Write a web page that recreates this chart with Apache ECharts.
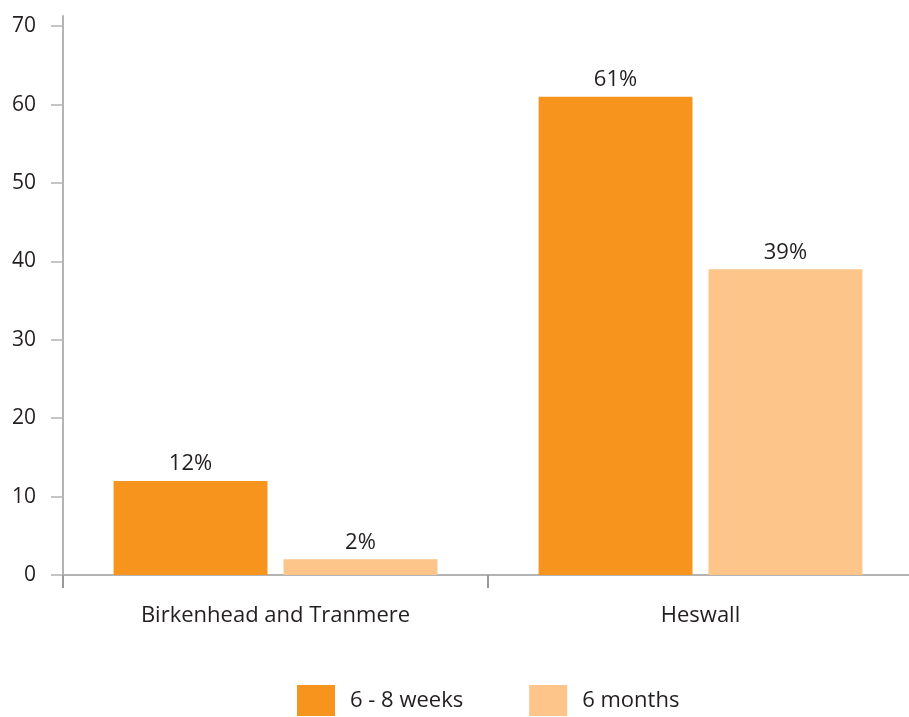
<!DOCTYPE html>
<html>
<head>
<meta charset="utf-8">
<script src="https://cdn.jsdelivr.net/npm/echarts@6/dist/echarts.min.js"></script>
<style>
  html, body { margin: 0; padding: 0; background: #fff; }
  #mychars { width: 909px; height: 717px; }
</style>
</head>
<body>
<div id="mychars"></div>
<script>
// data
let categories = ["Birkenhead and Tranmere", "Heswall"];
let weeksValues = [12, 61];
let monthsValues = [2, 39];
let seriesNames = ["6 - 8 weeks", "6 months"];
let yTicks = [0, 10, 20, 30, 40, 50, 60, 70];

let textColor = "#231f20";
let axisColor = "#b3b3b3";
let font = "Open Sans";

let myChart = echarts.init(document.getElementById("mychars"));

let labelStyle = {
  show: true,
  position: "top",
  distance: 6,
  formatter: "{c}%",
  color: textColor,
  fontSize: 22,
  fontFamily: font
};

myChart.setOption({
  animation: false,
  textStyle: { fontFamily: font },
  legend: {
    data: seriesNames,
    left: 297,
    bottom: 1,
    padding: 0,
    itemWidth: 38,
    itemHeight: 31,
    itemGap: 66,
    icon: "rect",
    textStyle: { color: textColor, fontSize: 22, fontFamily: font, padding: [0, 0, 0, 10] }
  },
  grid: {
    top: 16,
    left: 63,
    width: 850,
    bottom: 142,
    containLabel: false,
    outerBoundsMode: "none"
  },
  xAxis: {
    type: "category",
    data: categories,
    axisLine: { lineStyle: { color: axisColor, width: 2 } },
    axisTick: { show: true, length: 13, lineStyle: { color: "#999", width: 2 } },
    axisLabel: { color: textColor, fontSize: 22, margin: 30, fontFamily: font }
  },
  yAxis: {
    type: "value",
    min: 0,
    max: 71.3,
    axisLine: { show: true, lineStyle: { color: axisColor, width: 2 } },
    axisTick: { show: true, length: 12, lineStyle: { color: axisColor, width: 1.5 }, customValues: yTicks },
    axisLabel: { color: textColor, fontSize: 21, margin: 27, fontFamily: font, customValues: yTicks },
    splitLine: { show: false }
  },
  series: [
    {
      name: seriesNames[0],
      type: "bar",
      data: weeksValues,
      barCategoryGap: "23.8%",
      barGap: "10.4%",
      itemStyle: { color: "#f7941e" },
      label: labelStyle
    },
    {
      name: seriesNames[1],
      type: "bar",
      data: monthsValues,
      barCategoryGap: "23.8%",
      barGap: "10.4%",
      itemStyle: { color: "#fdc589" },
      label: labelStyle
    }
  ]
});
</script>
</body>
</html>
